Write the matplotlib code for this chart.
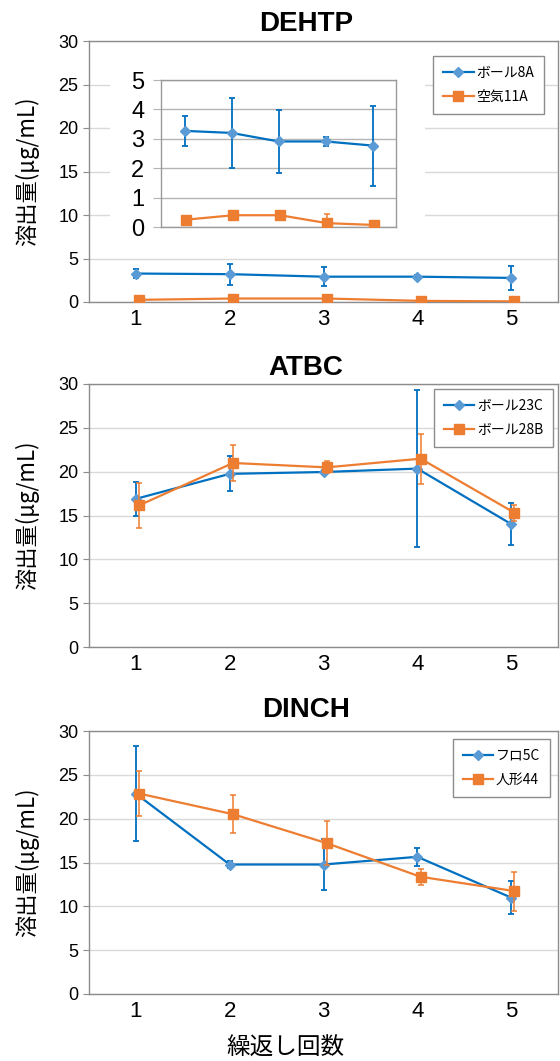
import matplotlib; matplotlib.use("Agg")
import matplotlib.pyplot as plt
from matplotlib.patches import Rectangle
from matplotlib.lines import Line2D

W, H = 560, 1061
JP = ["Noto Sans CJK JP", "DejaVu Sans"]
LAT = ["Liberation Sans", "DejaVu Sans"]
BLUE_L, BLUE_M = "#0070C0", "#5B9BD5"
ORANGE = "#ED7D31"
GRID = "#D9D9D9"; FRAME = "#8C8C8C"

runs = [1, 2, 3, 4, 5]

# DEHTP
dehtp_names = ["ボール8A", "空気11A"]
dehtp_a = [3.27, 3.20, 2.91, 2.91, 2.77]
dehtp_a_err = [0.52, 1.20, 1.07, 0.15, 1.36]
dehtp_b = [0.25, 0.40, 0.40, 0.13, 0.07]
dehtp_b_err = [0.03, 0.03, 0.03, 0.32, 0.02]
# ATBC
atbc_names = ["ボール23C", "ボール28B"]
atbc_a = [16.9, 19.75, 19.96, 20.35, 14.03]
atbc_a_err = [1.92, 2.0, 0.2, 9.0, 2.37]
atbc_b = [16.16, 20.99, 20.49, 21.48, 15.32]
atbc_b_err = [2.53, 2.07, 0.68, 2.85, 0.9]
# DINCH
dinch_names = ["フロ5C", "人形44"]
dinch_a = [22.85, 14.77, 14.77, 15.65, 11.0]
dinch_a_err = [5.4, 0.42, 2.87, 1.03, 1.9]
dinch_b = [22.86, 20.51, 17.2, 13.37, 11.74]
dinch_b_err = [2.58, 2.15, 2.48, 0.91, 2.22]

OFF = 0.035  # second series is drawn slightly to the right


def box(l, t, r, b):
    return [l / W, 1 - b / H, (r - l) / W, (b - t) / H]


def draw_series(ax, a, a_err, b, b_err):
    xa = runs
    xb = [x + OFF for x in runs]
    ax.errorbar(xa, a, yerr=a_err, color=BLUE_L, lw=1.6, ecolor=BLUE_L, elinewidth=1.3,
                capsize=2.5, capthick=1.3, marker="D", ms=5, mfc=BLUE_M, mec=BLUE_M, zorder=3)
    ax.errorbar(xb, b, yerr=b_err, color=ORANGE, lw=1.6, ecolor=ORANGE, elinewidth=1.1,
                capsize=2.5, capthick=1.1, marker="s", ms=6.5, mfc=ORANGE, mec=ORANGE, zorder=4)


def panel(top, bottom, title, title_base, a, a_err, b, b_err, names, leg_xy):
    ax = fig.add_axes(box(89, top, 558, bottom))
    draw_series(ax, a, a_err, b, b_err)
    ax.set_xlim(0.5, 5.5); ax.set_ylim(0, 30)
    ax.set_yticks(range(0, 31, 5)); ax.set_xticks(runs)
    ax.grid(axis="y", color=GRID, lw=1); ax.set_axisbelow(True)
    for s in ax.spines.values():
        s.set_color(FRAME); s.set_linewidth(1)
    ax.tick_params(axis="y", length=4.5, color=FRAME, labelsize=13, pad=3)
    ax.tick_params(axis="x", length=0, labelsize=16, pad=5)
    for t in ax.get_yticklabels() + ax.get_xticklabels():
        t.set_fontfamily(LAT)
    handles = [Line2D([], [], color=BLUE_L, lw=1.6, marker="D", ms=5, mfc=BLUE_M, mec=BLUE_M),
               Line2D([], [], color=ORANGE, lw=1.6, marker="s", ms=6.5, mfc=ORANGE, mec=ORANGE)]
    leg = ax.legend(handles, names, loc="upper right", bbox_to_anchor=leg_xy, borderaxespad=0,
                    prop={"family": JP, "size": 10}, handlelength=2.2, labelspacing=0.75,
                    fancybox=False, edgecolor=FRAME, framealpha=1, borderpad=0.7,
                    handletextpad=0.2)
    leg.get_frame().set_linewidth(1)
    fig.text(306 / W, 1 - title_base / H, title, ha="center", va="baseline",
             fontsize=20, fontweight="bold", family=LAT)
    fig.text(27 / W, 1 - (top + bottom) / 2 / H, "溶出量(μg/mL)", rotation=90,
             ha="center", va="center", fontsize=16, family=JP)
    return ax


fig = plt.figure(figsize=(W / 100, H / 100), dpi=100)

ax1 = panel(41, 302, "DEHTP", 31, dehtp_a, dehtp_a_err, dehtp_b, dehtp_b_err,
            dehtp_names, (0.97, 0.943))
ax2 = panel(384, 647, "ATBC", 375, atbc_a, atbc_a_err, atbc_b, atbc_b_err,
            atbc_names, (0.989, 0.981))
ax3 = panel(731, 994, "DINCH", 717, dinch_a, dinch_a_err, dinch_b, dinch_b_err,
            dinch_names, (0.983, 0.970))

# white area behind the inset of DEHTP
fig.patches.append(Rectangle((110 / W, 1 - 240 / H), 315 / W, 170 / H,
                             transform=fig.transFigure, facecolor="white",
                             edgecolor="none", zorder=1))
ins = fig.add_axes(box(161, 80, 396, 227))
ins.set_zorder(2)
draw_series(ins, dehtp_a, dehtp_a_err, dehtp_b, dehtp_b_err)
ins.set_xlim(0.5, 5.5); ins.set_ylim(0, 5)
ins.set_yticks(range(0, 6)); ins.set_xticks([])
ins.grid(axis="y", color="#B4B4B4", lw=1); ins.set_axisbelow(True)
for s in ins.spines.values():
    s.set_color("#9A9A9A"); s.set_linewidth(1)
ins.tick_params(axis="y", length=6, color="#B4B4B4", labelsize=17, pad=6)
for t in ins.get_yticklabels():
    t.set_fontfamily(LAT)

fig.text(285 / W, 1 - 1048 / H, "繰返し回数", ha="center", va="center",
         fontsize=17, family=JP)

fig.savefig("out.png", dpi=100)
